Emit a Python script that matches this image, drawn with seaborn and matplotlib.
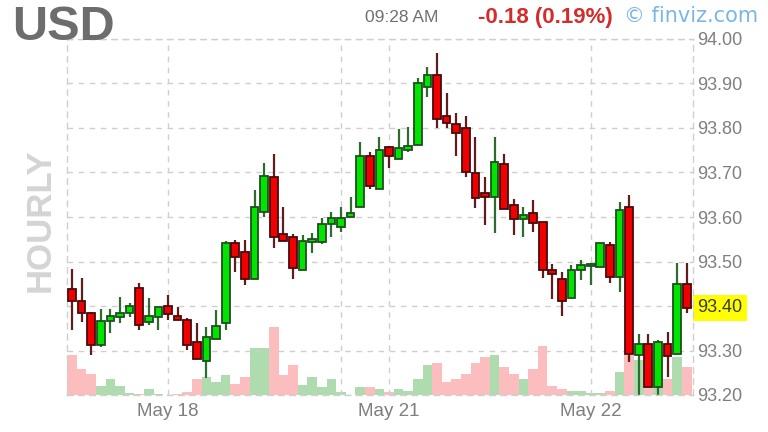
import matplotlib
matplotlib.use("Agg")
import matplotlib.pyplot as plt
import numpy as np
import pandas as pd
import seaborn as sns

# hourly USD index candles
opens = [93.438, 93.411, 93.384, 93.312, 93.366, 93.375, 93.385, 93.440, 93.365, 93.375,
         93.400, 93.378, 93.369, 93.318, 93.277, 93.325, 93.362, 93.541, 93.522, 93.460,
         93.612, 93.691, 93.561, 93.556, 93.482, 93.544, 93.544, 93.584, 93.578, 93.601,
         93.623, 93.736, 93.664, 93.758, 93.730, 93.751, 93.762, 93.893, 93.919, 93.827,
         93.810, 93.799, 93.698, 93.653, 93.644, 93.719, 93.627, 93.596, 93.610, 93.589,
         93.481, 93.460, 93.417, 93.482, 93.490, 93.487, 93.536, 93.466, 93.622, 93.290,
         93.314, 93.217, 93.314, 93.292, 93.449]
highs = [93.483, 93.463, 93.386, 93.393, 93.393, 93.420, 93.406, 93.452, 93.417, 93.397,
         93.425, 93.398, 93.373, 93.362, 93.353, 93.391, 93.546, 93.548, 93.548, 93.661,
         93.721, 93.742, 93.623, 93.561, 93.560, 93.563, 93.597, 93.612, 93.623, 93.646,
         93.769, 93.747, 93.779, 93.760, 93.797, 93.802, 93.912, 93.938, 93.968, 93.878,
         93.833, 93.827, 93.779, 93.691, 93.779, 93.742, 93.640, 93.623, 93.638, 93.589,
         93.494, 93.477, 93.492, 93.503, 93.497, 93.541, 93.544, 93.634, 93.649, 93.337,
         93.337, 93.324, 93.342, 93.496, 93.496]
lows = [93.346, 93.364, 93.290, 93.307, 93.339, 93.361, 93.376, 93.346, 93.357, 93.346,
        93.369, 93.369, 93.301, 93.282, 93.238, 93.325, 93.346, 93.477, 93.447, 93.460,
        93.601, 93.530, 93.547, 93.460, 93.482, 93.518, 93.539, 93.556, 93.567, 93.601,
        93.623, 93.662, 93.664, 93.709, 93.730, 93.747, 93.762, 93.869, 93.799, 93.799,
        93.736, 93.691, 93.620, 93.582, 93.563, 93.617, 93.560, 93.556, 93.567, 93.462,
        93.415, 93.378, 93.417, 93.458, 93.447, 93.487, 93.452, 93.432, 93.275, 93.200,
        93.217, 93.198, 93.241, 93.292, 93.384]
closes = [93.411, 93.384, 93.312, 93.366, 93.378, 93.384, 93.400, 93.357, 93.378, 93.397,
          93.381, 93.369, 93.312, 93.282, 93.330, 93.355, 93.541, 93.510, 93.460, 93.622,
          93.692, 93.556, 93.547, 93.486, 93.545, 93.551, 93.584, 93.597, 93.597, 93.610,
          93.736, 93.670, 93.751, 93.736, 93.754, 93.760, 93.902, 93.919, 93.820, 93.812,
          93.789, 93.702, 93.642, 93.644, 93.724, 93.617, 93.595, 93.604, 93.586, 93.481,
          93.472, 93.412, 93.481, 93.492, 93.492, 93.541, 93.465, 93.616, 93.292, 93.314,
          93.217, 93.320, 93.288, 93.449, 93.395]
volumes = [40, 26, 21, 9, 16, 9, 2, 1, 6, 1,
           0, 1, 3, 16, 18, 13, 20, 11, 18, 47,
           47, 68, 20, 30, 10, 18, 8, 16, 3, 0,
           8, 8, 6, 3, 6, 4, 16, 30, 32, 13,
           16, 21, 32, 38, 40, 28, 21, 16, 26, 49,
           9, 6, 4, 4, 2, 2, 4, 23, 40, 35,
           30, 45, 16, 38, 28]

date_ticks = [10, 28, 33, 54]
date_labels = ["May 18", "", "May 21", "May 22"]
price_ticks = [93.20, 93.30, 93.40, 93.50, 93.60, 93.70, 93.80, 93.90, 94.00]
last_price = 93.40

ticker = "USD"
timeframe = "HOURLY"
timestamp = "09:28 AM"
change_text = "-0.18 (0.19%)"
brand = "\u00a9 finviz.com"


def main():
    sns.set_theme(style="white")
    plt.rcParams["font.family"] = ["Liberation Sans", "DejaVu Sans"]

    o = np.array(opens)
    h = np.array(highs)
    l = np.array(lows)
    c = np.array(closes)
    idx = np.arange(len(o))
    up = c >= o

    fig = plt.figure(figsize=(7.68, 4.32), dpi=100)
    rect = [67 / 768, 37 / 432, 626 / 768, 356 / 432]
    xlim = (-0.52, 64.65)

    # volume underneath, on its own axes
    vax = fig.add_axes(rect)
    vol_df = pd.DataFrame({"bar": idx, "volume": volumes,
                           "dir": np.where(up, "up", "down")})
    sns.barplot(data=vol_df, x="bar", y="volume", hue="dir",
                palette={"up": "#aedcae", "down": "#fbbdbd"},
                dodge=False, width=1.0, saturation=1, linewidth=0,
                errorbar=None, legend=False, ax=vax)
    vax.set_xlim(*xlim)
    vax.set_ylim(0, 356)
    vax.axis("off")

    # price candles
    ax = fig.add_axes(rect)
    ax.patch.set_visible(False)
    wick_cols = list(np.where(up, "#2f6b2f", "#5e1e1e"))
    ax.vlines(idx, l, h, colors=wick_cols, linewidth=1.6, zorder=2)
    body_low = np.minimum(o, c)
    body_h = np.maximum(np.abs(c - o), 0.004)
    ax.bar(idx, body_h, bottom=body_low, width=0.8,
           color=list(np.where(up, "#00e400", "#f00000")),
           edgecolor=list(np.where(up, "#1e4f1e", "#4a0a0a")),
           linewidth=1.3, zorder=3)

    ax.set_xlim(*xlim)
    ax.set_ylim(93.20, 94.00)

    dash = (0, (4, 4))
    ax.set_axisbelow(True)
    ax.grid(True, color="#cfcfcf", linestyle=dash, linewidth=1)
    for sp in ax.spines.values():
        sp.set_visible(True)
        sp.set_linestyle(dash)
        sp.set_color("#cfcfcf")
        sp.set_linewidth(1)

    ax.set_xticks(date_ticks, labels=date_labels)
    ax.tick_params(axis="x", length=0, pad=6, labelsize=13.5, labelcolor="#7f7f7f")
    ax.set_yticks(price_ticks, labels=[f"{p:.2f}" for p in price_ticks])
    ax.yaxis.tick_right()
    ax.tick_params(axis="y", length=0, pad=3, labelsize=13, labelcolor="#7f7f7f")
    for lbl in ax.get_yticklabels():
        if lbl.get_text() == f"{last_price:.2f}":
            lbl.set_bbox(dict(boxstyle="square,pad=0.25", facecolor="#ffff00", edgecolor="none"))
            lbl.set_color("#3a3a3a")

    # header texts
    fig.text(12 / 768, 1 - 27 / 432, ticker, fontsize=35, fontweight="bold",
             color="#6d6d6d", ha="left", va="center")
    fig.text(40 / 768, 1 - 220 / 432, timeframe, fontsize=25, fontweight="bold",
             color="#d4d4d4", rotation=90, ha="center", va="center")
    fig.text(402 / 768, 1 - 17 / 432, timestamp, fontsize=12.5,
             color="#707070", ha="center", va="center")
    fig.text(545 / 768, 1 - 17 / 432, change_text, fontsize=16, fontweight="bold",
             color="#d42b2b", ha="center", va="center")
    fig.text(691 / 768, 1 - 16 / 432, brand, fontsize=15, family=["DejaVu Sans"],
             color="#7ab6e6", ha="center", va="center")

    fig.savefig("out.png", dpi=100)


if __name__ == "__main__":
    main()
